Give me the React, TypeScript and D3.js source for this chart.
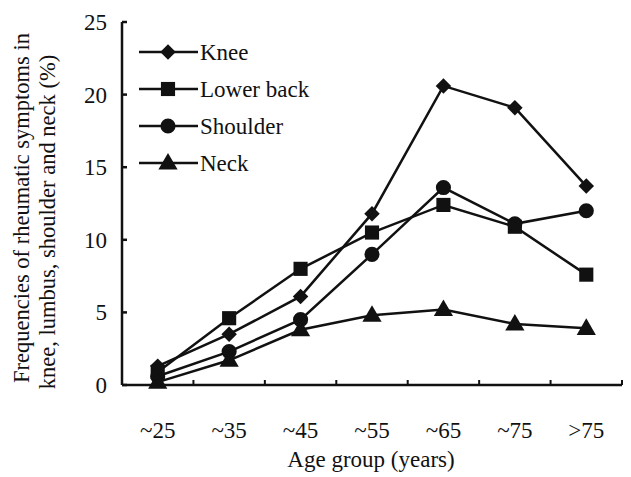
import React from "react";
import * as d3 from "d3";

const ageGroups = ["~25", "~35", "~45", "~55", "~65", "~75", ">75"];
const knee = [1.3, 3.5, 6.1, 11.8, 20.6, 19.1, 13.7];
const lowerBack = [0.9, 4.6, 8.0, 10.5, 12.4, 10.9, 7.6];
const shoulder = [0.6, 2.3, 4.5, 9.0, 13.6, 11.1, 12.0];
const neck = [0.2, 1.7, 3.8, 4.8, 5.2, 4.2, 3.9];
const yTicks = [0, 5, 10, 15, 20, 25];

const seriesNames = ["Knee", "Lower back", "Shoulder", "Neck"];

const W = 631;
const H = 477;
const margin = { top: 22, right: 9, bottom: 92, left: 122 };
const FS = 23;
const FAM = "Times New Roman";

const App = () => {
  const x = d3
    .scaleBand()
    .domain(ageGroups)
    .range([margin.left, W - margin.right]);

  const y = d3
    .scaleLinear()
    .domain([0, 25])
    .range([H - margin.bottom, margin.top]);

  const series = [
    { name: seriesNames[0], values: knee, shape: "diamond" },
    { name: seriesNames[1], values: lowerBack, shape: "square" },
    { name: seriesNames[2], values: shoulder, shape: "circle" },
    { name: seriesNames[3], values: neck, shape: "triangle" },
  ];

  const cx = (i: number) => (x(ageGroups[i]) as number) + x.bandwidth() / 2;

  const line = d3
    .line<number>()
    .x((_, i) => cx(i))
    .y((d) => y(d));

  const symbolPath = (shape: string) => {
    if (shape === "diamond") return d3.symbol(d3.symbolSquare, 120)();
    if (shape === "square") return d3.symbol(d3.symbolSquare, 200)();
    if (shape === "circle") return d3.symbol(d3.symbolCircle, 180)();
    return d3.symbol(d3.symbolTriangle, 160)();
  };

  const marker = (shape: string, px: number, py: number, key: any) => (
    <path
      key={key}
      d={symbolPath(shape) as string}
      transform={
        shape === "diamond"
          ? `translate(${px},${py}) rotate(45)`
          : shape === "triangle"
          ? `translate(${px},${py + 1})`
          : `translate(${px},${py})`
      }
      fill="#111"
    />
  );

  const x0 = margin.left;
  const x1 = W - margin.right;
  const y0 = H - margin.bottom;

  // band boundaries for x ticks
  const xTickPos = ageGroups.map((g) => (x(g) as number) + x.bandwidth());

  const T = (props: any) => (
    <text fontFamily={FAM} style={{ fontFamily: FAM }} fill="#111" {...props} />
  );

  return (
    <div style={{ position: "absolute", left: 0, top: 0, fontFamily: FAM }}>
      <svg width={W} height={H} style={{ display: "block" }}>
        <rect width={W} height={H} fill="#fff" />
        {/* axes */}
        <line x1={x0} x2={x0} y1={margin.top} y2={y0} stroke="#111" strokeWidth={2.5} />
        <line x1={x0} x2={x1} y1={y0} y2={y0} stroke="#111" strokeWidth={2.5} />
        {yTicks.map((t) => (
          <g key={t}>
            <line x1={x0} x2={x0 + 5} y1={y(t)} y2={y(t)} stroke="#111" strokeWidth={2.5} />
            <T x={x0 - 15} y={y(t) + 8} textAnchor="end" fontSize={FS}>
              {t}
            </T>
          </g>
        ))}
        {xTickPos.map((p, i) => (
          <line key={i} x1={p} x2={p} y1={y0} y2={y0 - 5} stroke="#111" strokeWidth={2} />
        ))}
        {ageGroups.map((g, i) => (
          <T key={g} x={cx(i)} y={438} textAnchor="middle" fontSize={FS}>
            {g}
          </T>
        ))}
        <T x={371} y={467} textAnchor="middle" fontSize={FS}>
          Age group (years)
        </T>
        <T transform="translate(29,208) rotate(-90)" textAnchor="middle" fontSize={22.5}>
          Frequencies of rheumatic symptoms in
        </T>
        <T transform="translate(55,222) rotate(-90)" textAnchor="middle" fontSize={22.5}>
          knee, lumbus, shoulder and neck (%)
        </T>

        {/* series */}
        {series.map((s) => (
          <g key={s.name}>
            <path d={line(s.values) as string} fill="none" stroke="#111" strokeWidth={2.5} />
            {s.values.map((v, i) => marker(s.shape, cx(i), y(v), i))}
          </g>
        ))}

        {/* legend */}
        {series.map((s, i) => {
          const ly = 52 + i * 37;
          return (
            <g key={s.name}>
              <line x1={139} x2={198} y1={ly} y2={ly} stroke="#111" strokeWidth={2.5} />
              {marker(s.shape, 168, ly, "m")}
              <T x={200} y={ly + 8} fontSize={FS}>
                {s.name}
              </T>
            </g>
          );
        })}
      </svg>
    </div>
  );
};

export default App;
